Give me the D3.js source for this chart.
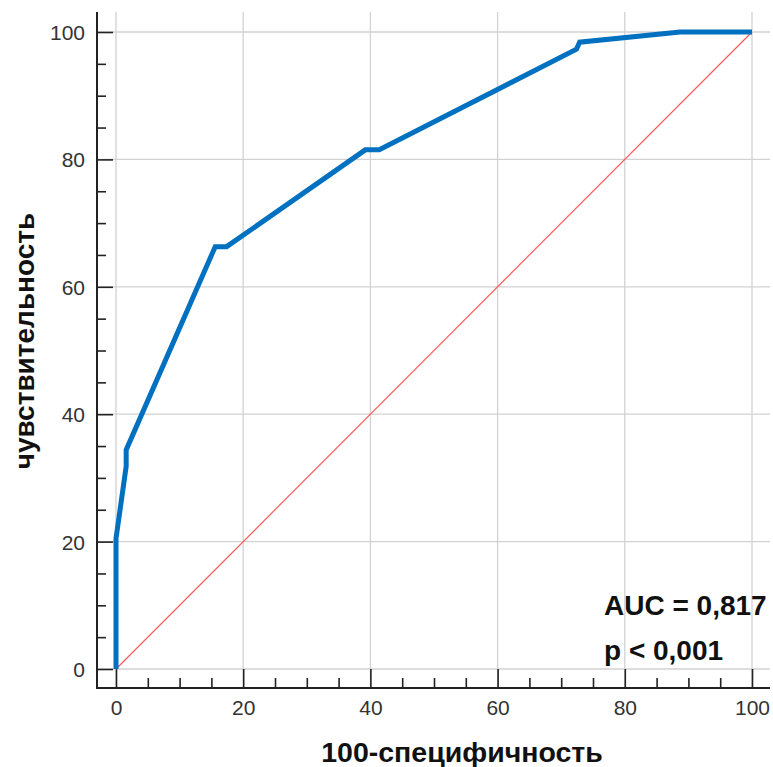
<!DOCTYPE html>
<html>
<head>
<meta charset="utf-8">
<script src="https://cdn.jsdelivr.net/npm/d3@7"></script>
<style>
  body { margin: 0; background: #fff; }
  svg text { font-family: 'Liberation Sans', Arial, sans-serif; }
</style>
</head>
<body>
<div id="root"></div>
<script>
// ROC curve points: 100-specificity (x) and sensitivity (y)
const rocX = [0, 0, 1.6, 1.6, 15.6, 17.4, 39.2, 41.4, 72.4, 72.9, 88.7, 100]
const rocY = [0, 20.5, 31.8, 34.4, 66.3, 66.3, 81.5, 81.5, 97.3, 98.4, 100, 100]
const majorTicks = [0, 20, 40, 60, 80, 100]
const minorTicks = d3.range(0, 101, 5).filter(d => d % 20 !== 0)
const xTitle = '100-специфичность'
const yTitle = 'чувствительность'
const statLines = ['AUC = 0,817', 'p < 0,001']

const dimensions = { width: 773, height: 767 }
const frame = { left: 97, right: 770, top: 12, bottom: 688 }

const svg = d3.select('#root').append('svg')
  .attr('width', dimensions.width)
  .attr('height', dimensions.height)

const xScale = d3.scaleLinear().domain([0, 100]).range([116, 752])
const yScale = d3.scaleLinear().domain([0, 100]).range([669, 32])

// grid
svg.append('g').selectAll('line')
  .data(majorTicks)
  .join('line')
  .attr('x1', d => xScale(d)).attr('x2', d => xScale(d))
  .attr('y1', frame.top).attr('y2', frame.bottom)
  .style('stroke', '#d2d2d2').style('stroke-width', 1.3)
svg.append('g').selectAll('line')
  .data(majorTicks)
  .join('line')
  .attr('x1', frame.left).attr('x2', frame.right)
  .attr('y1', d => yScale(d)).attr('y2', d => yScale(d))
  .style('stroke', '#d2d2d2').style('stroke-width', 1.3)

// axes (ticks point inward)
const xAxis = svg.append('g')
  .attr('transform', `translate(0, ${frame.bottom})`)
  .call(d3.axisBottom(xScale).tickValues(majorTicks).tickSizeInner(-19).tickSizeOuter(0).tickPadding(13))
const xMinor = svg.append('g')
  .attr('transform', `translate(0, ${frame.bottom})`)
  .call(d3.axisBottom(xScale).tickValues(minorTicks).tickSizeInner(-10).tickSizeOuter(0).tickFormat(''))
const yAxis = svg.append('g')
  .attr('transform', `translate(${frame.left}, 0)`)
  .call(d3.axisLeft(yScale).tickValues(majorTicks).tickSizeInner(-16).tickSizeOuter(0).tickPadding(12))
const yMinor = svg.append('g')
  .attr('transform', `translate(${frame.left}, 0)`)
  .call(d3.axisLeft(yScale).tickValues(minorTicks).tickSizeInner(-9).tickSizeOuter(0).tickFormat(''))

for (const ax of [xAxis, xMinor, yAxis, yMinor]) {
  ax.select('.domain').remove()
  ax.selectAll('.tick line').style('stroke', '#222').style('stroke-width', 1.6)
  ax.selectAll('.tick text').style('font-size', '21px').style('fill', '#333')
}
yAxis.selectAll('.tick text').attr('dy', '0.36em')
xAxis.selectAll('.tick text').attr('dy', '0.68em')

svg.append('line')
  .attr('x1', frame.left).attr('x2', frame.right)
  .attr('y1', frame.bottom).attr('y2', frame.bottom)
  .style('stroke', '#222').style('stroke-width', 2)
svg.append('line')
  .attr('x1', frame.left).attr('x2', frame.left)
  .attr('y1', frame.top).attr('y2', frame.bottom + 1)
  .style('stroke', '#222').style('stroke-width', 2)

// reference diagonal
svg.append('line')
  .attr('x1', xScale(0)).attr('y1', yScale(0))
  .attr('x2', xScale(100)).attr('y2', yScale(100))
  .style('stroke', '#ff5a5a').style('stroke-width', 1.2)

// ROC curve
const line = d3.line()
  .x(i => xScale(rocX[i]))
  .y(i => yScale(rocY[i]))
svg.append('path')
  .attr('d', line(d3.range(rocX.length)))
  .style('fill', 'none')
  .style('stroke', '#0070c0')
  .style('stroke-width', 5)
  .style('stroke-linejoin', 'miter')

// titles
svg.append('text')
  .text(xTitle)
  .attr('x', 462).attr('y', 762)
  .style('text-anchor', 'middle')
  .style('font-size', '28.5px').style('font-weight', 'bold').style('fill', '#111')
svg.append('text')
  .text(yTitle)
  .attr('transform', 'translate(34, 341) rotate(-90)')
  .style('text-anchor', 'middle')
  .style('font-size', '28px').style('font-weight', 'bold').style('fill', '#111')

svg.append('g').selectAll('text')
  .data(statLines)
  .join('text')
  .text(d => d)
  .attr('x', 604)
  .attr('y', (_d, i) => 615 + i * 45)
  .style('font-size', '28px').style('font-weight', 'bold').style('fill', '#111')
</script>
</body>
</html>
